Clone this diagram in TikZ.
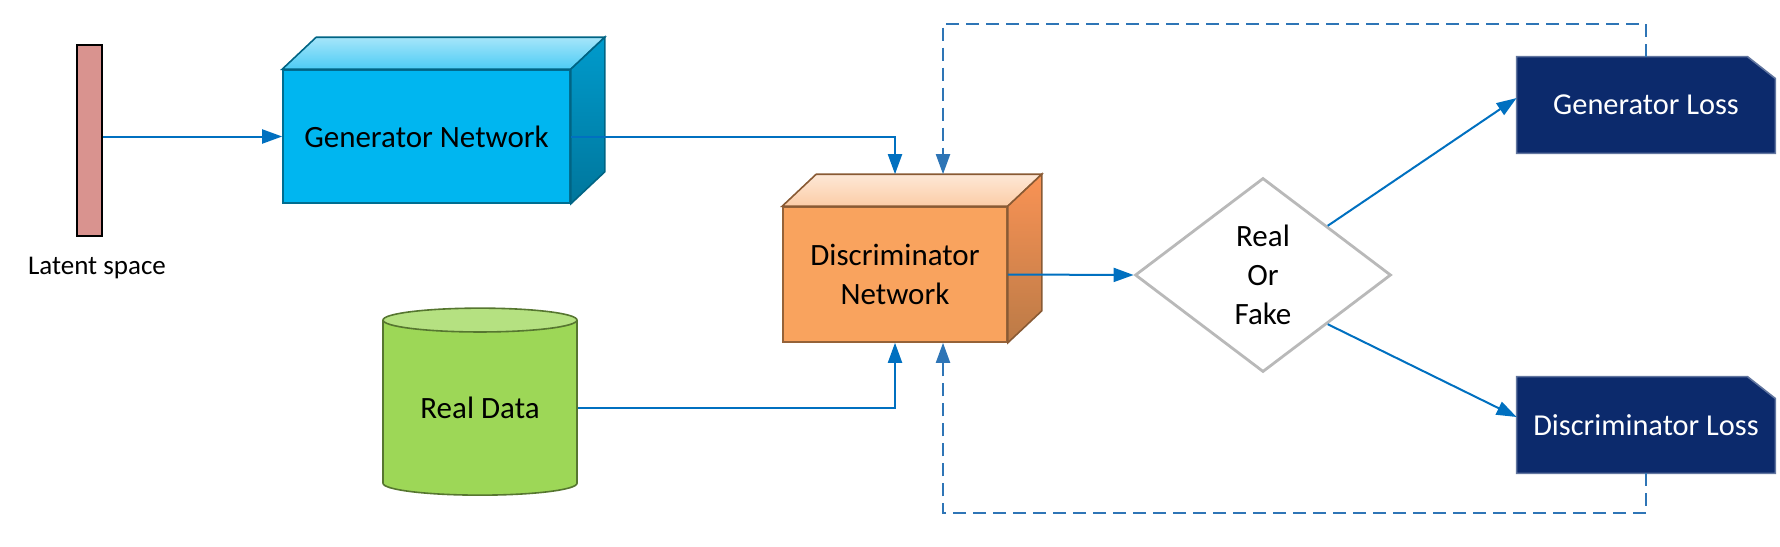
\documentclass[tikz,border=0pt]{standalone}
\usepackage{fontspec}
\setmainfont{Carlito}
\usepackage{tikz}
\usetikzlibrary{arrows.meta,shapes.geometric,calc,backgrounds}
\definecolor{flowblue}{HTML}{0070C0}
\definecolor{dashblue}{HTML}{2E75B6}
\definecolor{latentred}{HTML}{D9938F}
\definecolor{genblue}{HTML}{00B6F0}
\definecolor{discorange}{HTML}{F9A35E}
\definecolor{datagreen}{HTML}{9DD757}
\definecolor{lossnavy}{HTML}{0C2A6C}

\begin{document}
\begin{tikzpicture}[x=0.5pt,y=-0.5pt,
  flow/.style={draw=flowblue,line width=1pt,-{Triangle[width=7pt,length=10pt]}},
  feedback/.style={flow,draw=dashblue,dash pattern=on 6.5pt off 3.5pt},
  netbox/.style={rectangle,fill=#1,draw=#1!60!black,line width=0.8pt,inner sep=0pt,align=center,font=\fontsize{15.5}{19.5}\selectfont},
  lossbox/.style={rectangle,minimum width=129pt,minimum height=48pt,inner sep=0pt,text=white,font=\fontsize{15.2}{18}\selectfont},
  nametext/.style={font=\fontsize{13.5}{16}\selectfont}]
  \useasboundingbox (0,0) rectangle (1780,546);

  \node[draw=black,fill=latentred,line width=0.8pt,minimum width=12.5pt,minimum height=95.5pt,inner sep=0pt] (latent) at (89.5,140.5) {};
  \node[nametext] (latentname) at (97,268) {Latent space};

  \node[netbox=genblue,minimum width=143.5pt,minimum height=66.5pt] (gen) at (426.5,136.5) {Generator Network};
  \filldraw[draw=genblue!55!black,line width=0.8pt,top color=genblue!35!white,bottom color=genblue!70!white] (gen.north west) -- ++(34,-32) -- ($(gen.north east)+(34,-32)$) -- (gen.north east) -- cycle;
  \filldraw[draw=genblue!55!black,line width=0.8pt,top color=genblue!85!black,bottom color=genblue!65!black] (gen.north east) -- ++(34,-32) -- ($(gen.south east)+(34,-32)$) -- (gen.south east) -- cycle;

  \node[netbox=discorange,minimum width=112pt,minimum height=67.5pt] (disc) at (895,274.5) {Discriminator\\Network};
  \filldraw[draw=discorange!55!black,line width=0.8pt,top color=discorange!25!white,bottom color=discorange!55!white] (disc.north west) -- ++(34,-32) -- ($(disc.north east)+(34,-32)$) -- (disc.north east) -- cycle;
  \filldraw[draw=discorange!55!black,line width=0.8pt,top color=discorange!90!red,bottom color=discorange!75!black] (disc.north east) -- ++(34,-32) -- ($(disc.south east)+(34,-32)$) -- (disc.south east) -- cycle;

  \node[cylinder,shape border rotate=90,aspect=0.2,minimum width=97pt,minimum height=93.5pt,inner sep=0pt,cylinder uses custom fill,cylinder body fill=datagreen,cylinder end fill=datagreen!75!white,draw=datagreen!55!black,line width=0.8pt,font=\fontsize{15.5}{18}\selectfont] (data) at (480,408) {Real Data};

  \node[diamond,aspect=1.32,minimum width=128pt,minimum height=97pt,inner sep=0pt,draw=gray!55,line width=1.4pt,fill=white,align=center,font=\fontsize{15.5}{19.5}\selectfont] (decision) at (1263,275) {Real\\Or\\Fake};

  \node[lossbox] (genloss) at (1646,105) {Generator Loss};
  \node[lossbox] (discloss) at (1646,425) {Discriminator Loss};
  \begin{scope}[on background layer]
    \foreach \lossname in {genloss,discloss}
      \filldraw[fill=lossnavy,draw=lossnavy!65!white,line width=0.8pt] (\lossname.south west) -- (\lossname.north west) -- ([xshift=-14pt]\lossname.north east) -- ([yshift=-11pt]\lossname.north east) -- (\lossname.south east) -- cycle;
  \end{scope}

  \draw[flow] (latent.east |- gen.west) -- (gen.west);
  \draw[flow] (gen.east) -| ([yshift=16pt]disc.north);
  \draw[flow] (data.east) -| (disc.south);
  \draw[flow] (disc.east) -- (decision.west);
  \draw[flow] (decision.north east) -- ([yshift=3.5pt]genloss.west);
  \draw[flow] (decision.south east) -- ([yshift=4pt]discloss.west);
  \draw[feedback] (genloss.north) -- ++(0,-33) -| ([xshift=24pt,yshift=16pt]disc.north);
  \draw[feedback] (discloss.south) -- ++(0,40) -| ([xshift=24pt]disc.south);
\end{tikzpicture}
\end{document}
